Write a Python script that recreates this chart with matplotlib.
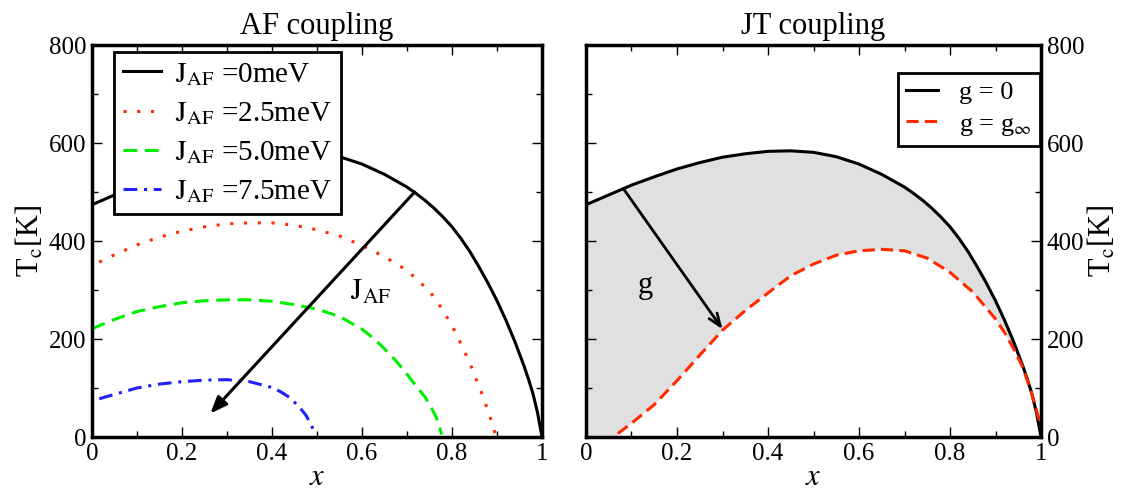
import numpy as np
import matplotlib
matplotlib.use('Agg')
import matplotlib.pyplot as plt
from matplotlib.ticker import MultipleLocator

plt.rcParams['font.family'] = 'serif'
plt.rcParams['font.serif'] = ['Liberation Serif', 'DejaVu Serif']
plt.rcParams['mathtext.fontset'] = 'stix'

# Tc(x) curves
x_j0 = [0, 0.05, 0.1, 0.15, 0.2, 0.25, 0.3, 0.35, 0.4, 0.45, 0.5, 0.55, 0.6, 0.65,
        0.7, 0.72, 0.74, 0.76, 0.78, 0.8, 0.82, 0.84, 0.86, 0.88, 0.9, 0.92, 0.94,
        0.96, 0.97, 0.98, 0.99, 1.0]
tc_j0 = [474, 494, 514, 531, 547, 560, 571, 578, 583, 584, 581, 572, 557, 536,
         510, 497, 483, 467, 449, 429, 405, 378, 347, 314, 278, 238, 194,
         145, 118, 88, 50, 0]

x_j25 = [0.016, 0.05, 0.1, 0.15, 0.2, 0.25, 0.3, 0.35, 0.4, 0.45, 0.5, 0.55, 0.6,
         0.65, 0.7, 0.75, 0.775, 0.8, 0.82, 0.84, 0.855, 0.87, 0.885, 0.896]
tc_j25 = [357, 372, 392, 408, 420, 429, 435, 437, 437, 432, 423, 410, 391,
          368, 340, 298, 265, 228, 190, 150, 115, 80, 40, 7]

x_j50 = [0, 0.05, 0.1, 0.15, 0.2, 0.25, 0.3, 0.35, 0.4, 0.45, 0.5, 0.55, 0.6,
         0.625, 0.65, 0.675, 0.7, 0.72, 0.74, 0.755, 0.765, 0.772, 0.777]
tc_j50 = [221, 240, 256, 266, 274, 278, 280, 280, 277, 270, 261, 246, 220,
          202, 180, 156, 128, 104, 82, 58, 40, 22, 5]

x_j75 = [0.016, 0.05, 0.1, 0.15, 0.2, 0.25, 0.3, 0.35, 0.4, 0.42, 0.44, 0.46,
         0.475, 0.487, 0.495]
tc_j75 = [78, 87, 100, 108, 113, 116, 117, 113, 101, 92, 80, 62, 45, 25, 8]

x_ginf = [0.07, 0.1, 0.15, 0.2, 0.25, 0.3, 0.35, 0.4, 0.45, 0.5, 0.55, 0.6, 0.65,
          0.7, 0.75, 0.8, 0.85, 0.9, 0.92, 0.94, 0.96, 0.97, 0.98, 0.99, 1.0]
tc_ginf = [7, 28, 66, 115, 167, 218, 258, 294, 329, 353, 371, 380, 383,
           380, 365, 336, 296, 241, 213, 180, 142, 115, 88, 55, 20]

af_labels = [r'$\mathrm{J}_{\mathrm{AF}}$ =0meV', r'$\mathrm{J}_{\mathrm{AF}}$ =2.5meV',
             r'$\mathrm{J}_{\mathrm{AF}}$ =5.0meV', r'$\mathrm{J}_{\mathrm{AF}}$ =7.5meV']
jt_labels = [r'g = 0', r'g = g$_\infty$']

fig = plt.figure(figsize=(11.28, 4.91), dpi=100)
ax1 = fig.add_axes([92 / 1128, 54 / 491, 450 / 1128, 392 / 491])
ax2 = fig.add_axes([586 / 1128, 54 / 491, 455 / 1128, 392 / 491])

LW = 2.2
RED = '#ff2a00'

# ---- left panel: AF coupling
ax1.plot(x_j0, tc_j0, color='black', lw=LW, label=af_labels[0])
ax1.plot(x_j25, tc_j25, color=RED, lw=LW, linestyle=(0, (1, 3.5)), label=af_labels[1])
ax1.plot(x_j50, tc_j50, color='#00ee00', lw=LW, linestyle=(0, (4.5, 2.5)), label=af_labels[2])
ax1.plot(x_j75, tc_j75, color='#2020ff', lw=LW, linestyle=(0, (4.5, 2.2, 1, 2.2)), label=af_labels[3])

ax1.annotate('', xy=(0.263, 48), xytext=(0.717, 500),
             arrowprops=dict(arrowstyle='-|>,head_length=1.0,head_width=0.4',
                             color='black', lw=2.2, shrinkA=0, shrinkB=0))
ax1.text(0.62, 296, r'$\mathrm{J}_{\mathrm{AF}}$', fontsize=22, ha='center', va='center')

leg1 = ax1.legend(loc='upper left', bbox_to_anchor=(0.049, 0.982), borderaxespad=0,
                  fontsize=21, handlelength=1.3, handletextpad=0.5, labelspacing=0.42,
                  borderpad=0.3, fancybox=False, framealpha=1, edgecolor='black')
leg1.get_frame().set_linewidth(2)

ax1.set_title('AF coupling', fontsize=22, pad=8)
ax1.set_ylabel(r'T$_\mathrm{c}$[K]', fontsize=22, labelpad=2)

# ---- right panel: JT coupling
poly_x = x_j0 + x_ginf[::-1] + [0.07, 0]
poly_y = tc_j0 + tc_ginf[::-1] + [0, 0]
ax2.fill(poly_x, poly_y, color='#e0e0e0', lw=0, zorder=0)
ax2.plot(x_j0, tc_j0, color='black', lw=LW, label=jt_labels[0])
ax2.plot(x_ginf, tc_ginf, color=RED, lw=LW, linestyle=(0, (4, 2)), label=jt_labels[1])

ax2.annotate('', xy=(0.30, 220), xytext=(0.082, 507),
             arrowprops=dict(arrowstyle='->,head_length=0.9,head_width=0.35',
                             color='black', lw=2.0, shrinkA=0, shrinkB=0))
ax2.text(0.13, 310, 'g', fontsize=22, ha='center', va='center')

leg2 = ax2.legend(loc='upper right', bbox_to_anchor=(0.997, 0.929), borderaxespad=0,
                  fontsize=19, handlelength=1.2, handletextpad=0.8, labelspacing=0.3,
                  borderpad=0.3, fancybox=False, framealpha=1, edgecolor='black')
leg2.get_frame().set_linewidth(2)

ax2.set_title('JT coupling', fontsize=22, pad=8)
ax2.yaxis.set_label_position('right')
ax2.set_ylabel(r'T$_\mathrm{c}$[K]', fontsize=22, labelpad=2)

for ax in (ax1, ax2):
    ax.set_xlim(0, 1)
    ax.set_ylim(0, 800)
    ax.xaxis.set_major_locator(MultipleLocator(0.2))
    ax.xaxis.set_minor_locator(MultipleLocator(0.1))
    ax.yaxis.set_major_locator(MultipleLocator(200))
    ax.yaxis.set_minor_locator(MultipleLocator(100))
    ax.tick_params(which='both', direction='in', top=True, right=True, left=True,
                   labelsize=18, width=1.0)
    ax.tick_params(which='major', length=7, pad=4)
    ax.tick_params(which='minor', length=4)
    for s in ax.spines.values():
        s.set_linewidth(2.5)
    ax.set_xlabel(r'$x$', fontsize=22, labelpad=-1)
    ax.xaxis.set_major_formatter(plt.FuncFormatter(lambda v, p: '%g' % v))

ax2.tick_params(axis='y', labelleft=False, labelright=True)

fig.savefig('out.png', dpi=100)
